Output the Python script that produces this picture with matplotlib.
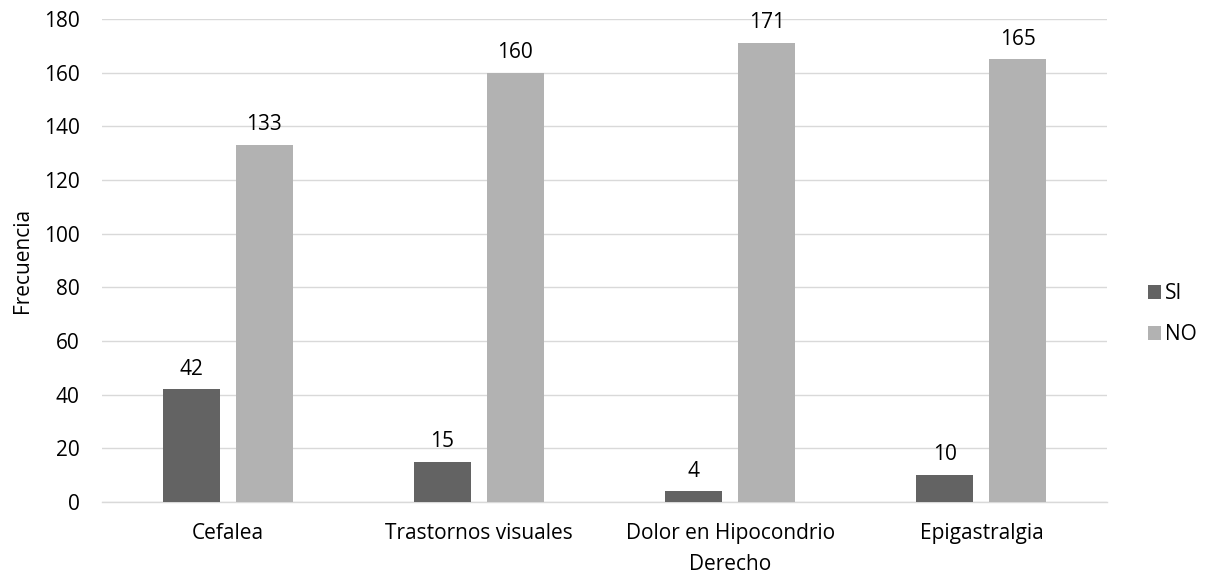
import matplotlib.pyplot as plt
import numpy as np

# datos de la grafica
sintomas = ["Cefalea", "Trastornos visuales", "Dolor en Hipocondrio\nDerecho", "Epigastralgia"]
si = [42, 15, 4, 10]
no = [133, 160, 171, 165]

plt.rcParams['font.family'] = ['Open Sans', 'DejaVu Sans']
plt.rcParams['font.size'] = 15

fig = plt.figure(figsize=(12.1, 5.73), dpi=100)
ax = fig.add_axes([0.0843, 0.1239, 0.8306, 0.8429])

x = np.arange(len(sintomas))
ancho = 0.227
desp = 0.145

b1 = ax.bar(x - desp, si, ancho, color="#636363", label="SI", zorder=3)
b2 = ax.bar(x + desp, no, ancho, color="#b2b2b2", label="NO", zorder=3)

# etiquetas de valores
ax.bar_label(b1, padding=7, fontsize=15, color="#000000")
ax.bar_label(b2, padding=7, fontsize=15, color="#000000")

ax.set_xlim(-0.5, len(sintomas) - 0.5)
ax.set_ylim(0, 180)
ax.set_yticks(range(0, 181, 20))
ax.set_xticks(x)
ax.set_xticklabels(sintomas, linespacing=1.65)
ax.tick_params(axis="both", length=0, colors="#000000", labelsize=15)
ax.tick_params(axis="x", pad=15)
ax.tick_params(axis="y", pad=16)

ax.grid(axis="y", color="#d9d9d9", linewidth=1, zorder=0)
for s in ["top", "right", "left"]:
    ax.spines[s].set_visible(False)
ax.spines["bottom"].set_color("#d9d9d9")
ax.spines["bottom"].set_linewidth(1)

ax.set_ylabel("Frecuencia", fontsize=15, labelpad=8)

ax.legend(loc="center left", bbox_to_anchor=(1.022, 0.389), frameon=False,
          handlelength=0.65, handleheight=0.65, handletextpad=0.15,
          labelspacing=0.95, fontsize=15)

fig.savefig("out.png", dpi=100)
